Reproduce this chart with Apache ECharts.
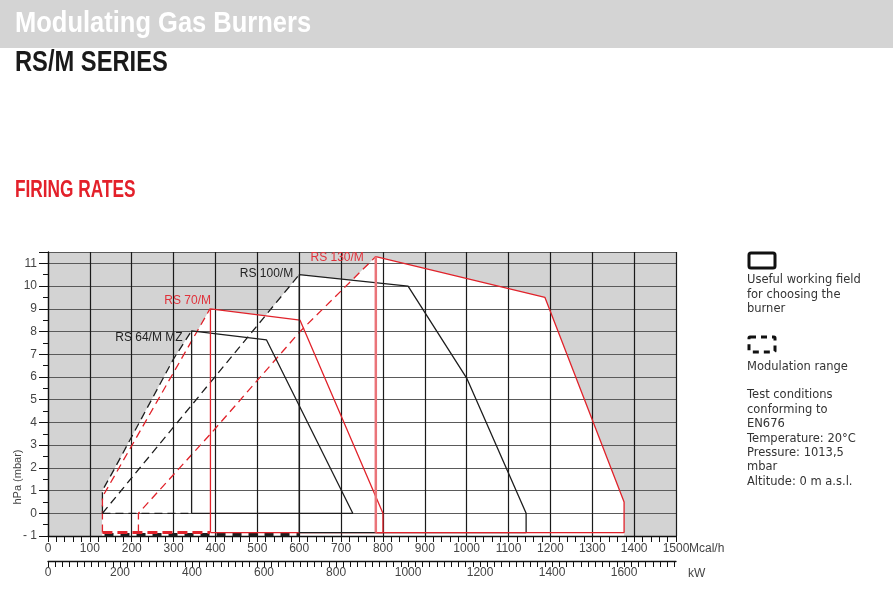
<!DOCTYPE html>
<html><head><meta charset="utf-8">
<script src="https://cdn.jsdelivr.net/npm/echarts@6/dist/echarts.min.js"></script>
<style>html,body{margin:0;padding:0;background:#fff}#c{width:893px;height:589px}</style>
</head><body><div id="c"></div>
<script>
// ---- data: points are [Mcal/h, hPa] ----
const burnerNames = ['RS 64/M MZ', 'RS 70/M', 'RS 100/M', 'RS 130/M'];

const rs64Modulation = [[130, 0], [130, 1.0], [160, 2.0], [300, 6.8], [343, 8.03]];
const rs64ModBase    = [[130, 0], [343, 0]];
const rs64Field      = [[343, 0], [343, 8.03], [522, 7.63], [728, 0], [343, 0]];

const rs70Modulation = [[130, -0.85], [130, 0.72], [387, 9.0]];
const rs70ModBase    = [[130, -0.85], [387, -0.85]];
const rs70Field      = [[388, -0.85], [388, 9.0], [602, 8.5], [800, 0], [800, -0.85], [388, -0.85]];

const rs100Modulation = [[130, 0], [600, 10.5]];
const rs100ModBase    = [[135, -0.93], [600, -0.93]];
const rs100Field      = [[600, -0.85], [600, 10.5], [860, 10.0], [1000, 5.95], [1142, 0], [1142, -0.85], [600, -0.85]];

const rs130Modulation = [[216, -0.85], [216, 0], [391, 3.55], [602, 8.0], [783, 11.3]];
const rs130Field      = [[783, -0.85], [783, 11.3], [1187, 9.5], [1376, 0.5], [1376, -0.85], [783, -0.85]];

const mcalMax = 1500;          // Mcal/h axis end
const kwPerMcal = 1 / 0.86;    // 1 kW = 0.86 Mcal/h
const pressureMin = -1, pressureMax = 11.5;

const legendLines1 = ['Useful working field', 'for choosing the', 'burner'];
const legendLines2 = ['Modulation range'];
const legendLines3 = ['Test conditions', 'conforming to', 'EN676', 'Temperature: 20°C', 'Pressure: 1013,5', 'mbar', 'Altitude: 0 m a.s.l.'];

// ---- build ----
const RED = '#e1232b', BLACK = '#1e1e1e';
const burners = [
  {mod: rs64Modulation, field: rs64Field, color: BLACK, label: {distance: 9, offset: [0, 7]}},
  {mod: rs70Modulation, field: rs70Field, color: RED, label: {distance: -1, offset: [0, -8]}},
  {mod: rs100Modulation, field: rs100Field, color: BLACK, label: {distance: 6, offset: [0, -1]}},
  {mod: rs130Modulation, field: rs130Field, color: RED, label: {distance: 12, offset: [0, 1]}}
];

function envelope(b) {
  const top = b.field.slice(2, b.field.length - 1);
  return [[b.mod[0][0], pressureMin], ...b.mod, ...top, [top[top.length - 1][0], pressureMin]];
}

const series = [];
burners.forEach((b, i) => {
  const poly = envelope(b);
  series.push({
    type: 'custom', z: 1, silent: true, animation: false, clip: true,
    data: poly,
    renderItem: (params, api) => {
      if (params.dataIndex !== 0) return null;
      return {type: 'polygon', shape: {points: poly.map(p => api.coord(p))}, style: {fill: '#ffffff'}};
    }
  });
});

function line(data, color, width, dash, z) {
  return {type: 'line', data, symbol: 'none', silent: true, animation: false, z: z || 4,
    lineStyle: {color, width, type: dash || 'solid'}};
}

burners.forEach((b, i) => {
  series.push({
    type: 'line', silent: true, animation: false, z: 4,
    symbol: 'circle', symbolSize: 0, showSymbol: true, showAllSymbol: true,
    lineStyle: {color: b.color, width: 1.3, type: [8, 5]},
    itemStyle: {color: b.color},
    data: b.mod.map((p, k) => k === b.mod.length - 1 ? {
      value: p,
      label: {show: true, formatter: burnerNames[i], position: 'left', distance: b.label.distance,
        offset: b.label.offset, color: b.color === RED ? '#e0313a' : '#222',
        fontSize: 12, fontFamily: 'Liberation Sans, Arial, sans-serif'}
    } : p)
  });
  series.push(line(b.field, b.color, 1.3, 'solid', 5));
});
series.push(line(rs64ModBase, BLACK, 1.3, [8, 5], 4));
series.push(line(rs100ModBase, BLACK, 3, [9, 7], 4));
series.push(line(rs70ModBase, RED, 3, [10, 5], 5));
series.push(line(rs130Field.slice(0, 2), '#ea7479', 2.5, 'solid', 6));

const axisFont = {fontSize: 12, color: '#444', fontFamily: '"Liberation Sans Narrow", "Liberation Sans", Arial, sans-serif'};
const legendFont = '11.5px "DejaVu Sans", sans-serif';

const option = {
  animation: false,
  grid: {left: 48, right: 217, top: 252, bottom: 53, show: true, backgroundColor: '#d3d3d3', borderWidth: 0},
  xAxis: [
    {type: 'value', min: 0, max: mcalMax, interval: 100, position: 'bottom', z: 2,
      axisLine: {show: true, onZero: false, lineStyle: {color: '#111', width: 1.3}},
      axisTick: {show: true, length: 6, lineStyle: {color: '#111'}},
      minorTick: {show: true, splitNumber: 5, length: 6, lineStyle: {color: '#111'}},
      axisLabel: Object.assign({margin: 7, formatter: v => String(v)}, axisFont),
      splitLine: {show: true, lineStyle: {color: '#1a1a1a', width: 1.2}}},
    {type: 'value', min: 0, max: mcalMax * kwPerMcal, interval: 20, position: 'bottom', offset: 25, z: 2,
      axisLine: {show: true, onZero: false, lineStyle: {color: '#111', width: 1.3}},
      axisTick: {show: true, length: 6, lineStyle: {color: '#111'}},
      axisLabel: Object.assign({margin: 6, showMaxLabel: false,
        formatter: v => (Math.abs(v / 200 - Math.round(v / 200)) < 1e-6 ? String(Math.round(v)) : '')}, axisFont),
      splitLine: {show: false}}
  ],
  yAxis: {type: 'value', min: pressureMin, max: pressureMax, interval: 1, z: 2,
    axisLine: {show: true, onZero: false, lineStyle: {color: '#111', width: 1.3}},
    axisTick: {show: true, length: 9, lineStyle: {color: '#111'}},
    minorTick: {show: true, splitNumber: 2, length: 5, lineStyle: {color: '#111'}},
    axisLabel: Object.assign({margin: 11, showMaxLabel: false,
      formatter: v => v < 0 ? '- ' + Math.abs(v) : String(v)}, axisFont),
    splitLine: {show: true, lineStyle: {color: '#5a5a5a', width: 1.2}}},
  series,
  graphic: [
    {type: 'rect', left: 0, top: 0, z: 0, shape: {x: 0, y: 0, width: 893, height: 48}, style: {fill: '#d4d4d4'}},
    {type: 'text', x: 15, y: 23.5, scaleX: 0.85, z: 10,
      style: {text: 'Modulating Gas Burners', fill: '#ffffff', font: 'bold 30px "Liberation Sans", Arial, sans-serif', verticalAlign: 'middle'}},
    {type: 'text', x: 15, y: 62.5, scaleX: 0.79, z: 10,
      style: {text: 'RS/M SERIES', fill: '#1a1a1a', font: 'bold 30px "Liberation Sans", Arial, sans-serif', verticalAlign: 'middle'}},
    {type: 'text', x: 15, y: 191, scaleX: 0.75, z: 10,
      style: {text: 'FIRING RATES', fill: '#e3202a', font: 'bold 23px "Liberation Sans", Arial, sans-serif', verticalAlign: 'middle'}},
    {type: 'text', x: 18, y: 477, rotation: Math.PI / 2, z: 10,
      style: {text: 'hPa (mbar)', fill: '#444', font: '11px "Liberation Sans", Arial, sans-serif', align: 'center', verticalAlign: 'middle'}},
    {type: 'text', x: 689, y: 549, z: 10,
      style: {text: 'Mcal/h', fill: '#444', font: '12px "Liberation Sans Narrow", "Liberation Sans", Arial, sans-serif', verticalAlign: 'middle'}},
    {type: 'text', x: 688, y: 574, z: 10,
      style: {text: 'kW', fill: '#444', font: '12px "Liberation Sans Narrow", "Liberation Sans", Arial, sans-serif', verticalAlign: 'middle'}},
    {type: 'rect', z: 10, shape: {x: 749, y: 253, width: 26, height: 15, r: 2}, style: {fill: 'none', stroke: '#111', lineWidth: 3}},
    {type: 'text', x: 747, y: 273, z: 10,
      style: {text: legendLines1.join('\n'), fill: '#333', font: legendFont, lineHeight: 14.6, verticalAlign: 'top'}},
    {type: 'rect', z: 10, shape: {x: 749, y: 337, width: 26, height: 15, r: 1}, style: {fill: 'none', stroke: '#111', lineWidth: 3, lineDash: [6, 5], lineDashOffset: 0}},
    {type: 'text', x: 747, y: 359.5, z: 10,
      style: {text: legendLines2.join('\n'), fill: '#333', font: legendFont, lineHeight: 14.6, verticalAlign: 'top'}},
    {type: 'text', x: 747, y: 388, z: 10,
      style: {text: legendLines3.join('\n'), fill: '#333', font: legendFont, lineHeight: 14.45, verticalAlign: 'top'}}
  ]
};

const chart = echarts.init(document.getElementById('c'), null, {renderer: 'canvas'});
chart.setOption(option);
</script>
</body></html>
